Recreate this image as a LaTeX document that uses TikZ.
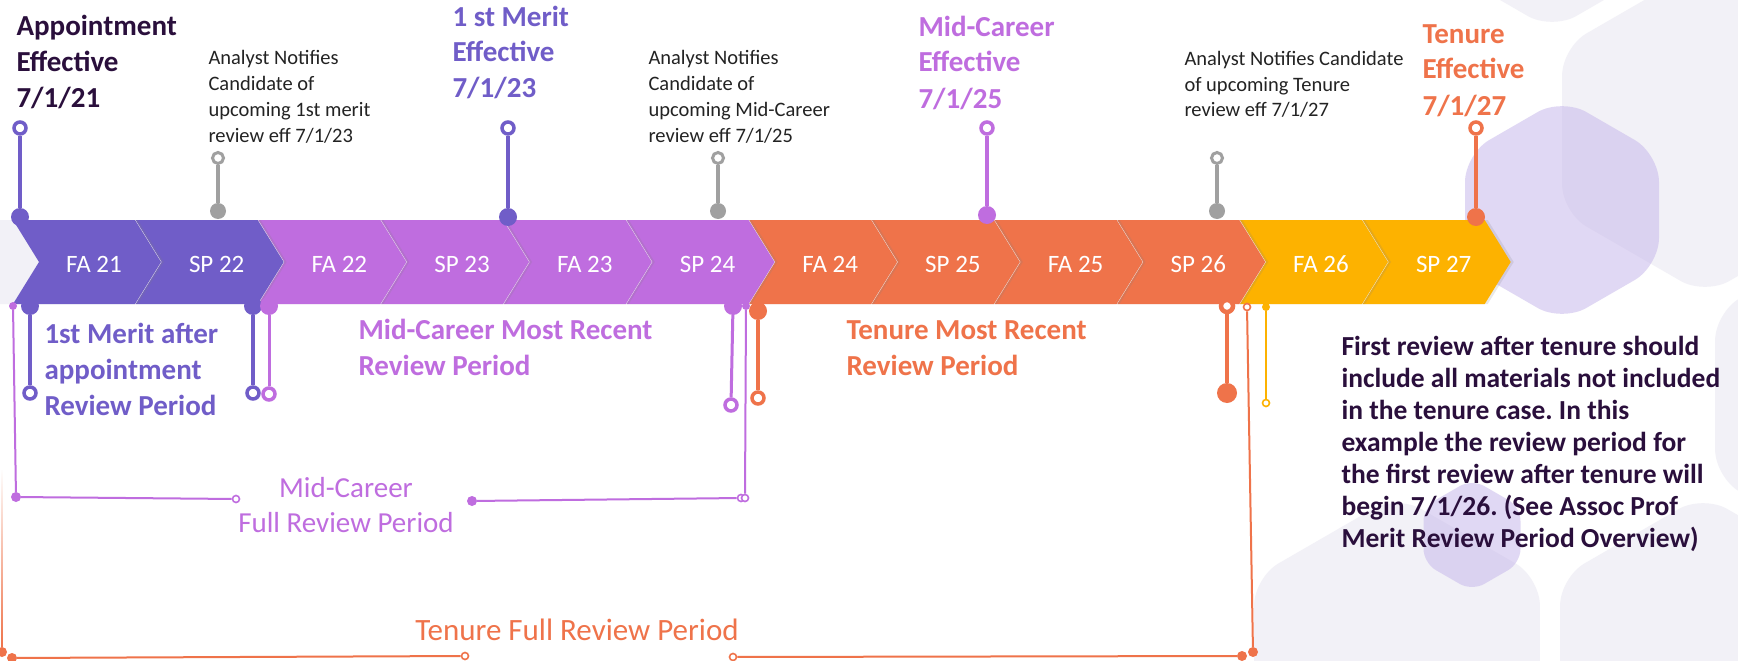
\documentclass[tikz,border=0pt]{standalone}
\usepackage{fontspec}
\setmainfont{Carlito}
\usetikzlibrary{shapes.geometric,shadows,fadings}
\frenchspacing

\definecolor{meritC}{RGB}{112,93,200}
\definecolor{midC}{RGB}{191,109,223}
\definecolor{tenC}{RGB}{239,115,74}
\definecolor{postC}{RGB}{253,178,0}
\definecolor{noteC}{RGB}{160,160,160}
\definecolor{inkC}{RGB}{42,15,60}
\definecolor{textC}{RGB}{35,35,35}
\definecolor{hexC}{RGB}{242,241,247}
\definecolor{lavC}{RGB}{200,185,235}

\begin{document}
\begin{tikzpicture}[x=1pt,y=-1pt,
  bigdot/.style={circle,inner sep=0pt,minimum size=18pt,fill=#1},
  ring/.style={circle,inner sep=0pt,minimum size=12pt,draw=#1,line width=3.5pt,fill=white},
  smalldot/.style={circle,inner sep=0pt,minimum size=8pt,fill=#1},
  smallring/.style={circle,inner sep=0pt,minimum size=7pt,draw=#1,line width=1.6pt,fill=white},
  stem/.style={draw=#1,line width=4pt},
  spanline/.style={draw=#1,line width=2pt},
  honey/.style={regular polygon,regular polygon sides=6,shape border rotate=30,inner sep=0pt,minimum size=#1,rounded corners=28pt}]
\tikzstyle{heading}=[anchor=base west,align=left,font=\bfseries\fontsize{29}{36}\selectfont]
\tikzstyle{note}=[anchor=base west,align=left,text=textC,font=\fontsize{20.5}{25.7}\selectfont]
\tikzstyle{bandlabel}=[anchor=base,text=white,font=\fontsize{25}{30}\selectfont]
\tikzstyle{chevshadow}=[drop shadow={shadow xshift=3pt,shadow yshift=0pt,opacity=.18}]

\useasboundingbox (0,0) rectangle (1738,661);
\clip (0,0) rectangle (1738,661);
\fill[white] (0,0) rectangle (1738,661);

\foreach \cx/\cy [count=\i] in {1705/130,1552/-135,1858/-135,1858/395,1397/660,1703/660}
  \node[honey=330pt,fill=hexC] (hex\i) at (\cx,\cy) {};
\node[honey=224pt,fill=lavC,fill opacity=.55] (lavA) at (1562,210) {};
\node[honey=112pt,fill=lavC,fill opacity=.55,rounded corners=14pt] (lavB) at (1472,535) {};

\fill[hexC] (0,220) -- (13,220) -- (39,262) -- (13,304) -- (0,304) -- cycle;
\foreach \lab/\col/\k in {SP 27/postC/11, FA 26/postC/10, SP 26/tenC/9, FA 25/tenC/8,
    SP 25/tenC/7, FA 24/tenC/6, SP 24/midC/5, FA 23/midC/4, SP 23/midC/3,
    FA 22/midC/2, SP 22/meritC/1, FA 21/meritC/0}{
  \pgfmathsetmacro{\L}{13+122.7*\k}
  \fill[\col,chevshadow] (\L,220) -- ++(122,0) -- ++(26,42) -- ++(-26,42) -- ++(-122,0) -- ++(26,-42) -- cycle;
  \node[bandlabel] (band\k) at (\L+81,272) {\lab};
}

\node[heading,text=inkC] (appT) at (13,107) {Appointment\\Effective\\7/1/21};
\node[heading,text=meritC] (meritT) at (449,98) {1 st Merit\\Effective\\7/1/23};
\node[heading,text=midC] (midT) at (915,108) {Mid-Career\\Effective\\7/1/25};
\node[heading,text=tenC] (tenT) at (1419,115) {Tenure\\Effective\\7/1/27};

\node[note] (note1) at (205,142) {Analyst Notifies\\Candidate of\\upcoming 1st merit\\review eff 7/1/23};
\node[note] (note2) at (645,142) {Analyst Notifies\\Candidate of\\upcoming Mid-Career\\review eff 7/1/25};
\node[note] (note3) at (1181,117) {Analyst Notifies Candidate\\of upcoming Tenure\\review eff 7/1/27};

\node[ring=meritC] (appO) at (20,128) {};
\node[bigdot=meritC] (appD) at (20,217) {};
\node[ring=noteC,minimum size=11pt,line width=3pt] (n1O) at (218,158) {};
\node[bigdot=noteC,minimum size=16pt] (n1D) at (218,211) {};
\node[ring=meritC] (m1O) at (508,128) {};
\node[bigdot=meritC] (m1D) at (508,217) {};
\node[ring=noteC,minimum size=11pt,line width=3pt] (n2O) at (718,158) {};
\node[bigdot=noteC,minimum size=16pt] (n2D) at (718,211) {};
\node[ring=midC] (mcO) at (987,128) {};
\node[bigdot=midC] (mcD) at (987,215) {};
\node[ring=noteC,minimum size=11pt,line width=3pt] (n3O) at (1217,158) {};
\node[bigdot=noteC,minimum size=16pt] (n3D) at (1217,211) {};
\node[ring=tenC] (tnO) at (1476,128) {};
\node[bigdot=tenC] (tnD) at (1476,217) {};
\path (appO) edge[stem=meritC] (appD)
      (n1O) edge[stem=noteC,line width=3.5pt] (n1D)
      (m1O) edge[stem=meritC] (m1D)
      (n2O) edge[stem=noteC,line width=3.5pt] (n2D)
      (mcO) edge[stem=midC] (mcD)
      (n3O) edge[stem=noteC,line width=3.5pt] (n3D)
      (tnO) edge[stem=tenC] (tnD);

\node[bigdot=meritC] (firstA) at (30,306) {};
\node[ring=meritC] (firstAo) at (30,393) {};
\node[bigdot=meritC] (firstB) at (253,306) {};
\node[ring=meritC] (firstBo) at (253,393) {};
\node[bigdot=midC] (midA) at (269,306) {};
\node[ring=midC] (midAo) at (269,394) {};
\node[bigdot=midC] (midB) at (733,306) {};
\node[ring=midC] (midBo) at (731,405) {};
\node[bigdot=tenC] (tenA) at (758,311) {};
\node[ring=tenC] (tenAo) at (758,398) {};
\node[ring=tenC,line width=4.5pt] (tenB) at (1227,306) {};
\node[bigdot=tenC,minimum size=20pt] (tenBo) at (1227,393) {};
\node[smalldot=postC] (postA) at (1266,307) {};
\node[smallring=postC] (postAo) at (1266,403) {};
\path (firstA) edge[stem=meritC] (firstAo)
      (firstB) edge[stem=meritC] (firstBo)
      (midA) edge[stem=midC,line width=3pt] (midAo)
      (midB) edge[stem=midC,line width=3pt] (midBo)
      (tenA) edge[stem=tenC] (tenAo)
      (tenB) edge[stem=tenC] (tenBo)
      (postA) edge[spanline=postC] (postAo);

\node[heading,text=meritC] (meritP) at (41,415) {1st Merit after\\appointment\\Review Period};
\node[heading,text=midC] (midP) at (355,375) {Mid-Career Most Recent\\Review Period};
\node[heading,text=tenC] (tenP) at (843,375) {Tenure Most Recent\\Review Period};

\node[smalldot=midC] (mfTop) at (13,306) {};
\node[smalldot=midC,minimum size=10pt] (mfCorner) at (16,497) {};
\node[smallring=midC] (mfL) at (236,499) {};
\node[smalldot=midC,minimum size=10pt] (mfR) at (472,501) {};
\node[smallring=midC] (mfEnd) at (741,498) {};
\node[smallring=midC] (mfEnd2) at (745,498) {};
\node[smalldot=midC] (mfTop2) at (746,306) {};
\draw[spanline=midC] (mfTop) -- (mfCorner) -- (mfL);
\draw[spanline=midC] (mfR) -- (mfEnd);
\draw[spanline=midC] (mfEnd2) -- (mfTop2);
\node[anchor=base,align=center,text=midC,font=\fontsize{29}{35}\selectfont] (midS) at (346,532) {Mid-Career\\Full Review Period};

\coordinate (tfTop) at (2,470);
\node[smalldot=tenC,minimum size=10pt] (tfCorner) at (2,652) {};
\node[smalldot=tenC,minimum size=10pt] (tfL) at (12,658) {};
\node[smallring=tenC] (tfLo) at (465,656) {};
\node[smallring=tenC] (tfRo) at (733,657) {};
\node[smalldot=tenC,minimum size=10pt] (tfR) at (1242,656) {};
\node[smalldot=tenC,minimum size=10pt] (tfCorner2) at (1253,652) {};
\node[smallring=tenC] (tfTop2) at (1247,307) {};
\draw[spanline=tenC,path fading=north] (tfTop) -- (tfCorner);
\draw[spanline=tenC] (tfL) -- (tfLo);
\draw[spanline=tenC] (tfRo) -- (tfR);
\draw[spanline=tenC] (tfCorner2) -- (tfTop2);
\node[anchor=base,text=tenC,font=\fontsize{31}{36}\selectfont] (tenS) at (577,640) {Tenure Full Review Period};

\node[anchor=base west,align=left,text=inkC,font=\bfseries\fontsize{27.5}{32}\selectfont] (afterT) at (1338,547)
  {First review after tenure should\\include all materials not included\\in the tenure case. In this\\example the review period for\\the first review after tenure will\\begin 7/1/26. (See Assoc Prof\\Merit Review Period Overview)};
\end{tikzpicture}
\end{document}
